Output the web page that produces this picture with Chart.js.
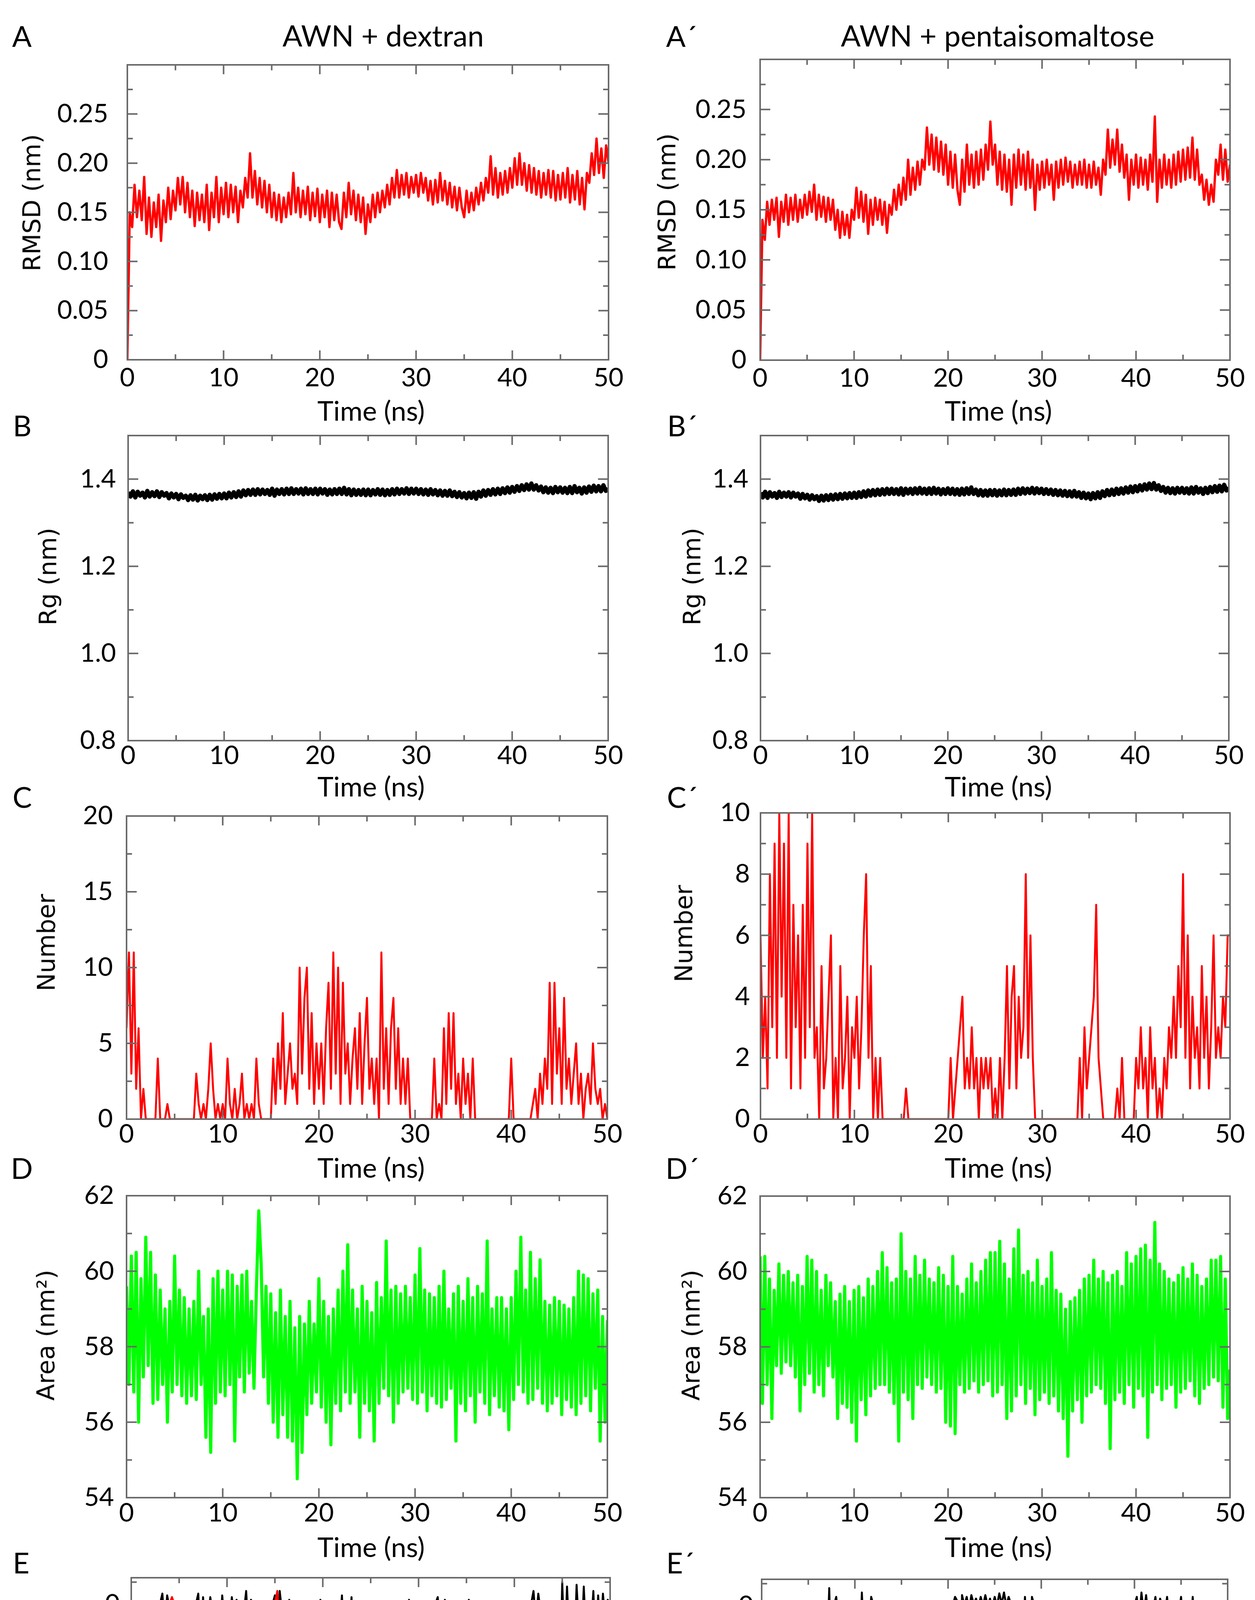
<!DOCTYPE html>
<html>
<head>
<meta charset="utf-8">
<script src="https://cdn.jsdelivr.net/npm/chart.js@4.4.1/dist/chart.umd.min.js"></script>
<style>
  body { margin: 0; width: 3213px; height: 4986px; background: #fff; position: relative; overflow: hidden; }
  canvas { position: absolute; }
  .txt { position: absolute; transform: translate(-50%, -50%); white-space: nowrap; color: #000; font-family: Lato, sans-serif; line-height: 1; }
  .ytitle { font-family: "DejaVu Sans", sans-serif; font-size: 62px; transform: translate(-50%, -50%) rotate(-90deg); }
</style>
</head>
<body>
<script>
// time axis (ns), one sample every 0.25 ns
const timeNs = [
  0,0.25,0.5,0.75,1,1.25,1.5,1.75,2,2.25,2.5,2.75,3,3.25,3.5,3.75,4,4.25,4.5,4.75,
  5,5.25,5.5,5.75,6,6.25,6.5,6.75,7,7.25,7.5,7.75,8,8.25,8.5,8.75,9,9.25,9.5,9.75,
  10,10.25,10.5,10.75,11,11.25,11.5,11.75,12,12.25,12.5,12.75,13,13.25,13.5,13.75,14,14.25,14.5,14.75,
  15,15.25,15.5,15.75,16,16.25,16.5,16.75,17,17.25,17.5,17.75,18,18.25,18.5,18.75,19,19.25,19.5,19.75,
  20,20.25,20.5,20.75,21,21.25,21.5,21.75,22,22.25,22.5,22.75,23,23.25,23.5,23.75,24,24.25,24.5,24.75,
  25,25.25,25.5,25.75,26,26.25,26.5,26.75,27,27.25,27.5,27.75,28,28.25,28.5,28.75,29,29.25,29.5,29.75,
  30,30.25,30.5,30.75,31,31.25,31.5,31.75,32,32.25,32.5,32.75,33,33.25,33.5,33.75,34,34.25,34.5,34.75,
  35,35.25,35.5,35.75,36,36.25,36.5,36.75,37,37.25,37.5,37.75,38,38.25,38.5,38.75,39,39.25,39.5,39.75,
  40,40.25,40.5,40.75,41,41.25,41.5,41.75,42,42.25,42.5,42.75,43,43.25,43.5,43.75,44,44.25,44.5,44.75,
  45,45.25,45.5,45.75,46,46.25,46.5,46.75,47,47.25,47.5,47.75,48,48.25,48.5,48.75,49,49.25,49.5,49.75,
  50
];

// A: RMSD, AWN + dextran (nm)
const rmsdDextran = [
  0.000,0.150,0.135,0.178, 0.145,0.172,0.142,0.186, 0.128,0.165,0.125,0.160, 0.135,0.168,0.121,0.162, 0.140,0.175,0.143,0.172,
  0.152,0.185,0.158,0.186, 0.150,0.180,0.145,0.172, 0.136,0.170,0.142,0.168, 0.140,0.178,0.132,0.170, 0.145,0.186,0.140,0.175,
  0.148,0.180,0.145,0.178, 0.150,0.176,0.140,0.172, 0.155,0.185,0.165,0.210, 0.165,0.192,0.158,0.185, 0.155,0.182,0.150,0.178,
  0.145,0.170,0.142,0.168, 0.140,0.165,0.145,0.170, 0.148,0.190,0.150,0.175, 0.145,0.172,0.148,0.176, 0.142,0.170,0.146,0.174,
  0.140,0.168,0.145,0.172, 0.135,0.170,0.142,0.168, 0.140,0.133,0.170,0.145, 0.180,0.148,0.172,0.142, 0.168,0.140,0.165,0.128,
  0.158,0.140,0.168,0.145, 0.170,0.150,0.172,0.155, 0.178,0.158,0.185,0.165, 0.193,0.165,0.188,0.168, 0.190,0.165,0.186,0.170,
  0.188,0.166,0.190,0.170, 0.185,0.162,0.182,0.158, 0.183,0.160,0.190,0.162, 0.182,0.158,0.180,0.155, 0.176,0.152,0.175,0.155,
  0.145,0.172,0.150,0.170, 0.152,0.175,0.158,0.180, 0.162,0.185,0.170,0.207, 0.168,0.195,0.165,0.190, 0.168,0.192,0.170,0.195,
  0.175,0.205,0.178,0.210, 0.178,0.200,0.172,0.198, 0.170,0.195,0.168,0.192, 0.165,0.190,0.168,0.193, 0.165,0.192,0.162,0.188,
  0.163,0.190,0.165,0.195, 0.160,0.188,0.163,0.192, 0.158,0.185,0.153,0.190, 0.180,0.210,0.188,0.225, 0.190,0.215,0.185,0.218,
  0.200
];

// A': RMSD, AWN + pentaisomaltose (nm)
const rmsdPenta = [
  0.000,0.140,0.120,0.158, 0.135,0.160,0.140,0.162, 0.123,0.158,0.138,0.165, 0.135,0.162,0.140,0.165, 0.138,0.160,0.142,0.165,
  0.145,0.168,0.148,0.175, 0.140,0.165,0.143,0.163, 0.138,0.162,0.140,0.160, 0.130,0.150,0.122,0.148, 0.125,0.145,0.122,0.150,
  0.140,0.172,0.142,0.168, 0.138,0.165,0.126,0.160, 0.135,0.162,0.140,0.160, 0.135,0.158,0.127,0.155, 0.145,0.170,0.150,0.175,
  0.155,0.182,0.160,0.200, 0.165,0.192,0.170,0.198, 0.175,0.200,0.190,0.232, 0.195,0.225,0.190,0.222, 0.188,0.218,0.185,0.215,
  0.175,0.208,0.172,0.205, 0.170,0.155,0.200,0.168, 0.215,0.175,0.205,0.172, 0.208,0.175,0.210,0.180, 0.215,0.190,0.238,0.195,
  0.215,0.175,0.208,0.170, 0.205,0.168,0.200,0.155, 0.205,0.172,0.210,0.175, 0.205,0.170,0.208,0.172, 0.200,0.150,0.195,0.170,
  0.198,0.172,0.200,0.175, 0.195,0.160,0.198,0.172, 0.200,0.175,0.202,0.178, 0.198,0.172,0.195,0.175, 0.198,0.175,0.200,0.172,
  0.195,0.172,0.198,0.175, 0.192,0.165,0.200,0.185, 0.230,0.192,0.220,0.195, 0.230,0.188,0.215,0.182, 0.205,0.160,0.200,0.175,
  0.205,0.172,0.202,0.175, 0.200,0.170,0.205,0.178, 0.243,0.158,0.200,0.172, 0.205,0.175,0.200,0.172, 0.205,0.175,0.208,0.178,
  0.210,0.180,0.212,0.182, 0.222,0.180,0.210,0.175, 0.185,0.160,0.180,0.155, 0.175,0.158,0.200,0.185, 0.215,0.180,0.210,0.178,
  0.195
];

// B: radius of gyration, dextran (nm)
const rgDextran = [
  1.370,1.360,1.372,1.358, 1.371,1.362,1.369,1.358, 1.373,1.360,1.370,1.361, 1.372,1.359,1.370,1.362, 1.368,1.356,1.367,1.358,
  1.366,1.354,1.365,1.357, 1.362,1.352,1.363,1.353, 1.364,1.351,1.362,1.354, 1.363,1.352,1.364,1.353, 1.365,1.355,1.366,1.356,
  1.367,1.356,1.369,1.358, 1.370,1.359,1.372,1.360, 1.374,1.363,1.375,1.364, 1.376,1.364,1.377,1.365, 1.376,1.366,1.375,1.364,
  1.378,1.362,1.376,1.366, 1.377,1.365,1.378,1.366, 1.379,1.366,1.377,1.367, 1.378,1.365,1.379,1.366, 1.377,1.366,1.378,1.365,
  1.378,1.367,1.377,1.364, 1.376,1.365,1.377,1.366, 1.378,1.366,1.380,1.365, 1.377,1.363,1.376,1.364, 1.375,1.364,1.376,1.363,
  1.376,1.363,1.375,1.365, 1.377,1.364,1.376,1.363, 1.375,1.364,1.377,1.365, 1.378,1.366,1.377,1.367, 1.379,1.366,1.378,1.367,
  1.378,1.366,1.377,1.365, 1.376,1.364,1.377,1.365, 1.375,1.363,1.374,1.362, 1.373,1.362,1.374,1.361, 1.371,1.359,1.370,1.358,
  1.368,1.356,1.369,1.357, 1.370,1.355,1.371,1.360, 1.374,1.362,1.375,1.364, 1.377,1.365,1.378,1.366, 1.379,1.368,1.381,1.369,
  1.382,1.371,1.384,1.373, 1.386,1.375,1.388,1.376, 1.390,1.376,1.386,1.374, 1.383,1.370,1.381,1.369, 1.380,1.368,1.382,1.370,
  1.381,1.369,1.380,1.368, 1.382,1.368,1.384,1.370, 1.380,1.367,1.381,1.369, 1.383,1.371,1.385,1.372, 1.384,1.372,1.386,1.373,
  1.378
];

// B': radius of gyration, pentaisomaltose (nm)
const rgPenta = [
  1.369,1.358,1.371,1.357, 1.370,1.360,1.368,1.357, 1.371,1.359,1.369,1.360, 1.370,1.358,1.369,1.360, 1.367,1.355,1.366,1.356,
  1.364,1.353,1.363,1.354, 1.361,1.350,1.362,1.351, 1.363,1.352,1.364,1.353, 1.365,1.354,1.366,1.355, 1.367,1.356,1.368,1.357,
  1.369,1.357,1.370,1.359, 1.372,1.360,1.374,1.362, 1.375,1.363,1.376,1.364, 1.377,1.365,1.378,1.366, 1.378,1.366,1.377,1.365,
  1.379,1.364,1.378,1.367, 1.378,1.366,1.379,1.367, 1.380,1.367,1.378,1.366, 1.379,1.366,1.380,1.367, 1.378,1.365,1.377,1.366,
  1.379,1.366,1.378,1.365, 1.377,1.364,1.378,1.365, 1.379,1.366,1.381,1.366, 1.376,1.363,1.375,1.362, 1.374,1.362,1.375,1.363,
  1.375,1.362,1.374,1.363, 1.376,1.363,1.375,1.364, 1.376,1.364,1.378,1.366, 1.379,1.367,1.378,1.368, 1.380,1.367,1.379,1.368,
  1.378,1.366,1.377,1.366, 1.376,1.364,1.375,1.363, 1.374,1.362,1.373,1.361, 1.372,1.360,1.373,1.360, 1.370,1.357,1.369,1.356,
  1.367,1.354,1.368,1.356, 1.370,1.357,1.372,1.361, 1.375,1.363,1.376,1.364, 1.378,1.366,1.379,1.367, 1.381,1.369,1.383,1.370,
  1.384,1.372,1.386,1.374, 1.388,1.376,1.390,1.377, 1.391,1.376,1.386,1.373, 1.382,1.369,1.380,1.368, 1.379,1.367,1.380,1.369,
  1.380,1.368,1.379,1.367, 1.381,1.367,1.382,1.369, 1.379,1.366,1.380,1.368, 1.382,1.370,1.384,1.371, 1.385,1.372,1.387,1.374,
  1.380
];

// C: number of hydrogen bonds, dextran
const hbondDextran = [
  6,11,3,11, 2,6,0,2, 0,0,0,0, 0,4,0,0, 0,1,0,0,
  0,0,0,0, 0,0,0,0, 0,3,1,0, 1,0,2,5, 2,0,1,0,
  1,0,4,1, 0,2,0,1, 3,0,1,0, 1,0,4,1, 0,0,0,0,
  0,4,1,5, 2,7,1,3, 5,2,3,1, 10,3,8,10, 2,7,1,5,
  2,5,1,6, 9,2,11,3, 10,1,9,3, 5,1,4,6, 2,7,1,5,
  8,2,4,1, 4,0,11,2, 6,1,6,8, 2,6,1,4, 1,4,0,0,
  0,0,0,0, 0,0,0,0, 4,0,1,0, 6,1,7,2, 7,1,3,0,
  4,1,3,0, 4,0,0,0, 0,0,0,0, 0,0,0,0, 0,0,0,0,
  4,0,0,0, 0,0,0,0, 0,1,2,0, 3,1,4,2, 9,1,9,3,
  6,1,8,2, 4,1,3,5, 1,3,0,2, 3,1,5,2, 1,2,0,1,
  0
];

// C': number of hydrogen bonds, pentaisomaltose
const hbondPenta = [
  6,2,4,1, 8,3,9,2, 10,4,9,2, 10,1,7,3, 6,1,7,2,
  9,3,10,2, 3,0,5,1, 2,4,6,0, 2,0,5,1, 2,4,0,3,
  2,4,1,3, 6,8,2,5, 0,2,0,2, 0,0,0,0, 0,0,0,0,
  0,0,1,0, 0,0,0,0, 0,0,0,0, 0,0,0,0, 0,0,0,0,
  0,2,0,1, 2,3,4,1, 2,1,3,1, 2,0,2,1, 2,1,2,0,
  1,0,2,0, 2,5,1,4, 5,1,4,2, 3,8,2,6, 2,0,0,0,
  0,0,0,0, 0,0,0,0, 0,0,0,0, 0,0,0,0, 2,0,3,1,
  2,3,4,7, 2,1,0,0, 0,0,0,0, 1,0,2,0, 0,0,0,0,
  2,1,3,1, 2,0,3,1, 2,0,1,0, 2,1,3,2, 4,2,5,3,
  8,2,6,1, 4,2,3,1, 5,2,4,1, 3,6,2,3, 2,4,3,6,
  6
];

// D: solvent accessible area, dextran (nm^2)
const areaDextran = [
  59.6,57.0,60.4,56.8, 60.5,56.0,59.8,57.2, 60.9,57.5,60.5,56.5, 59.9,56.6,59.5,57.0, 59.0,56.0,59.2,56.8,
  60.4,57.0,59.5,56.7, 59.3,56.5,59.0,56.7, 59.2,56.6,60.0,57.0, 58.8,55.6,59.0,55.2, 59.8,56.5,60.0,56.8,
  59.5,56.7,60.0,57.0, 59.9,55.5,59.6,57.2, 59.9,56.8,60.0,57.3, 59.2,56.9,59.5,61.6, 60.2,57.2,59.6,56.5,
  59.4,56.0,58.9,55.6, 59.5,56.2,58.8,55.6, 59.2,55.5,58.5,54.5, 58.8,55.2,58.6,56.2, 59.2,56.5,58.6,56.8,
  59.8,56.4,59.2,56.0, 58.8,55.4,59.0,56.5, 59.5,56.3,60.0,56.8, 60.7,56.5,59.5,56.8, 59.0,55.6,59.6,56.5,
  59.2,56.3,58.9,55.5, 59.7,56.5,59.3,56.9, 60.8,56.7,59.5,56.0, 59.6,56.5,59.4,56.8, 59.6,56.9,59.3,56.6,
  59.9,56.5,60.6,56.8, 59.5,56.3,59.4,56.7, 59.3,56.5,59.6,56.4, 60.0,56.6,59.0,56.9, 59.4,55.5,59.6,56.5,
  59.2,56.3,59.8,56.7, 59.3,56.0,59.6,56.8, 59.4,56.5,60.8,56.2, 59.0,56.7,59.3,56.4, 59.3,56.3,59.0,55.8,
  59.3,56.6,60.0,57.0, 60.9,56.8,59.5,56.5, 60.5,56.6,59.8,56.9, 60.3,56.5,59.2,56.3, 59.1,56.5,59.3,56.7,
  59.2,56.2,59.1,56.6, 59.0,56.4,59.3,56.2, 60.0,56.5,59.9,56.7, 59.8,56.3,59.4,56.9, 59.5,55.5,58.8,56.0,
  58.7
];

// D': solvent accessible area, pentaisomaltose (nm^2)
const areaPenta = [
  60.4,56.5,60.4,57.0, 59.8,56.1,59.5,57.5, 60.2,57.3,59.9,57.6, 60.0,57.5,59.7,57.2, 59.9,56.3,59.6,57.0,
  60.4,57.3,60.3,56.8, 60.0,57.0,59.5,56.7, 59.9,57.5,59.7,57.2, 59.2,56.1,59.4,56.5, 59.6,56.4,59.2,56.0,
  59.5,55.5,59.6,56.6, 59.3,56.2,59.8,56.7, 59.6,56.9,60.0,57.0, 60.5,57.0,60.1,56.8, 59.7,56.5,59.8,55.5,
  61.0,56.8,60.0,56.6, 59.8,56.1,60.4,57.0, 59.9,56.9,60.3,57.2, 59.8,57.0,59.7,56.8, 60.1,56.9,59.9,56.0,
  59.6,55.9,60.4,55.7, 59.6,57.0,59.4,56.8, 59.8,56.9,60.2,57.1, 59.7,56.8,60.0,57.0, 60.3,57.1,60.5,56.7,
  60.5,56.8,60.8,57.0, 60.2,56.1,59.8,56.3, 60.6,56.7,61.1,57.0, 59.9,56.5,60.0,56.9, 59.7,56.2,60.3,56.6,
  59.6,56.8,59.8,56.5, 60.5,56.7,59.5,56.3, 59.4,56.1,59.0,55.1, 59.2,56.3,59.3,56.6, 59.5,56.0,59.8,56.7,
  59.9,56.8,60.3,57.0, 59.8,56.9,60.0,56.5, 59.7,55.3,59.9,56.6, 60.0,56.8,59.6,56.5, 60.5,57.0,60.2,56.4,
  60.4,56.9,60.6,56.7, 60.7,55.6,60.3,56.8, 61.3,57.0,60.2,56.6, 60.0,56.9,59.8,57.0, 59.7,56.4,59.9,56.8,
  60.1,56.9,59.8,57.1, 60.2,56.7,59.9,56.5, 59.6,56.9,59.8,57.0, 60.3,57.2,60.3,57.1, 60.4,56.4,59.8,56.1,
  57.4
];

// E: interaction energy, dextran (kJ/mol), black and red curves
const energyDextranBlack = [
  -20,-100,-60,-130, -80,-115,-30,0, 3,-2,2,-1, 0,12,-30,10, -5,-82,0,2,
  0,0,0,0, 0,0,0,0, 12,-60,8,-50, -20,8,-10,0, -78,-35,10,-25,
  0,-30,8,-15, 5,-100,3,-10, 15,-40,5,0, 0,-10,0,0, 0,0,0,0,
  10,-105,15,-10, -10,-60,5,-40, -30,-80,-40,-70, -155,-60,-100,-20, -90,-50,-100,5,
  -40,-110,-30,-90, -130,-60,-110,-30, 10,-60,0,-40, 8,-80,-40,-100, -50,-90,-30,-80,
  -145,-60,-145,-40, -100,-155,-60,-90, -130,-40,-100,-20, -147,-30,-100,-20, 5,-60,-10,0,
  0,0,0,0, 0,0,0,0, 8,-20,-60,5, -60,-155,-100,-130, -80,-150,0,-170,
  -100,5,-120,-158, -40,0,0,0, 0,0,0,0, 0,0,0,0, 0,0,-30,0,
  0,0,0,0, 0,0,0,0, 15,-20,12,-10, -40,-90,-60,-110, -70,-100,-60,-95,
  25,-60,20,-40, -20,-60,22,-30, -50,20,-40,-60, -30,15,-60,10, -40,12,-20,5,
  0
];
const energyDextranRed = [
  -90,-40,-95,-50, -20,-45,-50,-5, 0,0,0,0, 0,0,0,0, 0,8,0,0,
  0,0,0,0, 0,0,0,0, 0,-25,-40,-10, 0,-15,0,-30, -10,0,0,0,
  -30,-5,0,0, 0,0,0,0, -10,-35,0,0, 0,0,-15,0, 0,0,0,0,
  0,15,-30,-10, -20,-40,-25,-35, -40,-60,-30,-80, -60,-100,-70,-90, -60,-105,-70,-85,
  -60,-95,-70,-80, -118,-50,-100,-60, -120,-40,-70,-30, -60,-35,-80,-40, -70,-40,-60,-50,
  -90,-45,-70,-40, -85,-30,-70,-40, -30,-60,-20,-50, -10,-55,-25,-40, 0,0,0,0,
  0,0,0,0, 0,0,0,0, 0,-55,-20,-40, -60,-30,-80,-40, -70,-30,-60,-90,
  -40,-20,-50,-30, 0,0,0,0, 0,0,0,0, 0,-3,0,0, 0,0,-30,0,
  0,0,0,0, 0,0,0,0, -62,-20,-40,-30, -50,-80,-60,-90, -70,-95,-60,-40,
  -20,-50,-68,-30, -20,-50,-10,-40, -20,-55,-10,-30, -40,-10,-35,-20, -40,-15,-30,-10,
  0
];

// E': interaction energy, pentaisomaltose (kJ/mol)
const energyPentaBlack = [
  -80,-165,-110,-150, -200,-140,-210,-120, -180,-100,-190,-130, -220,-110,-180,-150, -100,-170,-120,-160,
  -110,-180,-210,-150, -205,-120,-150,-100, -60,20,-95,0, 10,-20,5,-60, 5,-10,-30,-60,
  -80,-40,-75,15, -50,-85,-30,10, 0,0,-25,0, 0,0,0,0, 0,0,0,0,
  -65,0,-55,0, 5,0,0,0, 0,0,0,0, 0,0,0,0, 0,0,0,0,
  0,5,0,10, 5,-128,12,0, 10,-5,12,2, 8,-2,10,0, 12,0,8,-3,
  10,0,14,2, 15,0,10,2, 5,-20,-110,-105, -60,10,-40,-130, 10,0,0,0,
  0,0,0,0, 0,0,0,0, 0,0,0,0, 0,0,0,0, 0,-35,5,0,
  -10,-65,0,5, 0,0,0,0, 0,0,0,0, 0,-25,0,0, 0,0,0,0,
  0,10,-20,15, -10,12,-15,5, -5,10,-20,8, 0,-10,10,-20, -30,5,-40,-10,
  10,-30,-50,0, -40,10,-30,-55, 0,-40,-20,-60, -10,-50,-30,-60, 5,-55,-20,-60,
  -30
];
const energyPentaRed = [
  -50,-95,-60,-75, -45,-70,-40,-65, -50,-75,-35,-60, -40,-70,-45,-65, -35,-60,-45,-70,
  -40,-60,-35,-65, -30,-70,-40,-55, -20,-40,-25,-45, -15,-40,-20,-45, 0,0,-20,-35,
  -40,-20,-45,-25, -40,-15,0,0, 0,0,-15,0, 0,0,0,0, 0,0,0,0,
  0,0,-15,0, 0,0,0,0, 0,0,0,0, -15,0,0,0, 0,0,0,0,
  0,-40,0,0, -50,-15,-40,-20, -45,-20,-40,-25, -45,-15,-50,-25, -40,-20,-35,-15,
  -45,-25,-40,-20, -40,-15,-35,-25, -30,-60,-40,-70, -85,-40,-60,-25, -50,-20,0,0,
  0,0,0,0, 0,0,0,0, 0,0,0,0, 0,0,0,0, 0,-10,-30,-15,
  -40,-20,-35,-10, -30,0,0,0, 0,0,0,0, 0,0,0,0, 0,0,0,0,
  0,-30,-45,-20, -50,-25,-40,-15, -30,-10,-20,0, 0,-20,-40,-25, -50,-30,-60,-100,
  -60,-85,-50,-80, -60,-90,-55,-75, -100,-127,-70,-60, -70,-50,-80,-55, -75,-50,-80,-60,
  -70
];

// tick values and labels
const xMajorTicks = [0, 10, 20, 30, 40, 50];
const xTickLabels = ['0', '10', '20', '30', '40', '50'];
const xMinorTicks = [5, 15, 25, 35, 45];

const rmsdTicks = [0, 0.05, 0.1, 0.15, 0.2, 0.25];
const rmsdTickLabels = ['0', '0.05', '0.10', '0.15', '0.20', '0.25'];
const rmsdMinorTicks = [0.025, 0.075, 0.125, 0.175, 0.225, 0.275];

const rgTicks = [0.8, 1.0, 1.2, 1.4];
const rgTickLabels = ['0.8', '1.0', '1.2', '1.4'];
const rgMinorTicks = [0.9, 1.1, 1.3];

const hbDexTicks = [0, 5, 10, 15, 20];
const hbDexTickLabels = ['0', '5', '10', '15', '20'];
const hbDexMinorTicks = [2.5, 7.5, 12.5, 17.5];

const hbPentaTicks = [0, 2, 4, 6, 8, 10];
const hbPentaTickLabels = ['0', '2', '4', '6', '8', '10'];
const hbPentaMinorTicks = [1, 3, 5, 7, 9];

const areaTicks = [54, 56, 58, 60, 62];
const areaTickLabels = ['54', '56', '58', '60', '62'];
const areaMinorTicks = [55, 57, 59, 61];

const energyTicks = [-300, -250, -200, -150, -100, -50, 0];
const energyTickLabels = ['\u2212300', '\u2212250', '\u2212200', '\u2212150', '\u2212100', '\u221250', '0'];
const energyMinorTicks = [-275, -225, -175, -125, -75, -25, 25];

const RED = '#ff0000', BLACK = '#000000', GREEN = '#00ff00';
const FRAME = '#6a6a6a';
const TICK_FONT = { family: 'Lato', size: 66, lineHeight: 1 };

// panel layout: plot box [left, top, right, bottom] in page pixels
const panels = [
  { box: [326, 144, 1558, 921], yMin: 0, yMax: 0.3, yTicks: rmsdTicks, yLabels: rmsdTickLabels, yMinor: rmsdMinorTicks, yPad: 49, xPad: 14,
    lines: [{ values: rmsdDextran, color: RED, width: 6 }] },
  { box: [1946, 144, 3149, 922], yMin: 0, yMax: 0.3, yTicks: rmsdTicks, yLabels: rmsdTickLabels, yMinor: rmsdMinorTicks, yPad: 35, xPad: 14,
    lines: [{ values: rmsdPenta, color: RED, width: 6 }] },
  { box: [328, 1111, 1557, 1896], yMin: 0.8, yMax: 1.5, yTicks: rgTicks, yLabels: rgTickLabels, yMinor: rgMinorTicks, yPad: 31, xPad: 6,
    lines: [{ values: rgDextran, color: BLACK, width: 11 }] },
  { box: [1947, 1111, 3146, 1896], yMin: 0.8, yMax: 1.5, yTicks: rgTicks, yLabels: rgTickLabels, yMinor: rgMinorTicks, yPad: 31, xPad: 6,
    lines: [{ values: rgPenta, color: BLACK, width: 11 }] },
  { box: [324, 2081, 1555, 2865], yMin: 0, yMax: 20, yTicks: hbDexTicks, yLabels: hbDexTickLabels, yMinor: hbDexMinorTicks, yPad: 35, xPad: 6,
    lines: [{ values: hbondDextran, color: RED, width: 5 }] },
  { box: [1947, 2081, 3149, 2865], yMin: 0, yMax: 10, yTicks: hbPentaTicks, yLabels: hbPentaTickLabels, yMinor: hbPentaMinorTicks, yPad: 27, xPad: 6,
    lines: [{ values: hbondPenta, color: RED, width: 5 }] },
  { box: [324, 3056, 1555, 3834], yMin: 54, yMax: 62, yTicks: areaTicks, yLabels: areaTickLabels, yMinor: areaMinorTicks, yPad: 32, xPad: 7,
    lines: [{ values: areaDextran, color: GREEN, width: 8 }] },
  { box: [1946, 3056, 3149, 3834], yMin: 54, yMax: 62, yTicks: areaTicks, yLabels: areaTickLabels, yMinor: areaMinorTicks, yPad: 33, xPad: 7,
    lines: [{ values: areaPenta, color: GREEN, width: 8 }] },
  { box: [336, 4037, 1562, 4784], yMin: -300, yMax: 30, yTicks: energyTicks, yLabels: energyTickLabels, yMinor: energyMinorTicks, yPad: 29, xPad: 15,
    lines: [{ values: energyDextranBlack, color: BLACK, width: 5 }, { values: energyDextranRed, color: RED, width: 5 }] },
  { box: [1950, 4043, 3143, 4785], yMin: -300, yMax: 30, yTicks: energyTicks, yLabels: energyTickLabels, yMinor: energyMinorTicks, yPad: 21, xPad: 15,
    lines: [{ values: energyPentaBlack, color: BLACK, width: 5 }, { values: energyPentaRed, color: RED, width: 5 }] }
];

// frame around the plot and inward tick marks on all four sides
function frameTicks(p) {
  return {
    id: 'frameTicks',
    afterDatasetsDraw(chart) {
      const { ctx, chartArea: a } = chart;
      const x = chart.scales.x, y = chart.scales.y;
      ctx.save();
      ctx.strokeStyle = FRAME;
      ctx.lineWidth = 4;
      ctx.beginPath();
      const seg = (x1, y1, x2, y2) => { ctx.moveTo(x1, y1); ctx.lineTo(x2, y2); };
      const xt = (vals, len) => vals.forEach(v => {
        const px = x.getPixelForValue(v);
        seg(px, a.bottom, px, a.bottom - len);
        seg(px, a.top, px, a.top + len);
      });
      const yt = (vals, len) => vals.forEach(v => {
        const py = y.getPixelForValue(v);
        seg(a.left, py, a.left + len, py);
        seg(a.right, py, a.right - len, py);
      });
      xt(xMajorTicks, 24); xt(xMinorTicks, 14);
      yt(p.yTicks, 26); yt(p.yMinor, 14);
      ctx.stroke();
      ctx.strokeRect(a.left, a.top, a.right - a.left, a.bottom - a.top);
      ctx.restore();
    }
  };
}

const YW = 300, PT = 60, PR = 70, XH = 110;

panels.forEach(p => {
  const [l, t, r, b] = p.box;
  const w = YW + (r - l) + PR, h = PT + (b - t) + XH;
  const cv = document.createElement('canvas');
  cv.width = w; cv.height = h;
  cv.style.left = (l - YW) + 'px';
  cv.style.top = (t - PT) + 'px';
  cv.style.width = w + 'px';
  cv.style.height = h + 'px';
  document.body.appendChild(cv);

  const n = p.lines.length;
  new Chart(cv, {
    type: 'line',
    data: {
      datasets: p.lines.map((s, i) => ({
        data: timeNs.map((tx, j) => ({ x: tx, y: s.values[j] })),
        borderColor: s.color,
        borderWidth: s.width,
        borderJoinStyle: 'round',
        pointRadius: 0,
        tension: 0,
        fill: false,
        order: n - 1 - i
      }))
    },
    options: {
      responsive: false,
      animation: false,
      devicePixelRatio: 1,
      events: [],
      layout: { padding: { left: 0, top: PT, right: PR, bottom: 0 } },
      plugins: { legend: { display: false }, tooltip: { enabled: false } },
      scales: {
        x: {
          type: 'linear', min: 0, max: 50,
          grid: { display: false, drawTicks: false },
          border: { display: false },
          afterBuildTicks: s => { s.ticks = xMajorTicks.map(v => ({ value: v })); },
          afterFit: s => { s.height = XH; },
          ticks: { padding: p.xPad, font: TICK_FONT, color: '#000', maxRotation: 0, autoSkip: false,
                   callback: (v, i) => xTickLabels[i] }
        },
        y: {
          type: 'linear', min: p.yMin, max: p.yMax,
          grid: { display: false, drawTicks: false },
          border: { display: false },
          afterBuildTicks: s => { s.ticks = p.yTicks.map(v => ({ value: v })); },
          afterFit: s => { s.width = YW; },
          ticks: { padding: p.yPad, font: TICK_FONT, color: '#000', autoSkip: false,
                   callback: (v, i) => p.yLabels[i] }
        }
      }
    },
    plugins: [frameTicks(p)]
  });
});

// text: column titles, panel letters, axis titles
const texts = [
  ['AWN + dextran', 981, 90, 75, ''], ['AWN + pentaisomaltose', 2554, 90, 75, ''],
  ['A', 56, 92, 74, ''], ['A\u00B4', 1745, 92, 74, ''],
  ['B', 57, 1089, 74, ''], ['B\u00B4', 1747, 1089, 74, ''],
  ['C', 57, 2040, 74, ''], ['C\u00B4', 1747, 2040, 74, ''],
  ['D', 56, 2990, 74, ''], ['D\u00B4', 1747, 2990, 74, ''],
  ['E', 54, 4000, 74, ''], ['E\u00B4', 1742, 4000, 74, ''],
  ['Time (ns)', 950, 1050, 70, ''], ['Time (ns)', 2556, 1050, 70, ''],
  ['Time (ns)', 950, 2012, 70, ''], ['Time (ns)', 2556, 2012, 70, ''],
  ['Time (ns)', 950, 2988, 70, ''], ['Time (ns)', 2556, 2988, 70, ''],
  ['Time (ns)', 950, 3959, 70, ''], ['Time (ns)', 2556, 3959, 70, ''],
  ['Time (ns)', 950, 4918, 70, ''], ['Time (ns)', 2554, 4918, 70, ''],
  ['RMSD (nm)', 82, 519, 62, 'ytitle'], ['RMSD (nm)', 1708, 517, 62, 'ytitle'],
  ['Rg (nm)', 123, 1476, 62, 'ytitle'], ['Rg (nm)', 1772, 1476, 62, 'ytitle'],
  ['Number', 119, 2413, 62, 'ytitle'], ['Number', 1751, 2390, 62, 'ytitle'],
  ['Area (nm\u00B2)', 118, 3418, 62, 'ytitle'], ['Area (nm\u00B2)', 1770, 3418, 62, 'ytitle'],
  ['kJ/mol', 113, 4400, 62, 'ytitle'], ['kJ/mol', 1729, 4406, 62, 'ytitle']
];
texts.forEach(([s, x, y, size, cls]) => {
  const d = document.createElement('div');
  d.className = 'txt ' + cls;
  d.textContent = s;
  d.style.left = x + 'px';
  d.style.top = y + 'px';
  d.style.fontSize = size + 'px';
  document.body.appendChild(d);
});
</script>
</body>
</html>
